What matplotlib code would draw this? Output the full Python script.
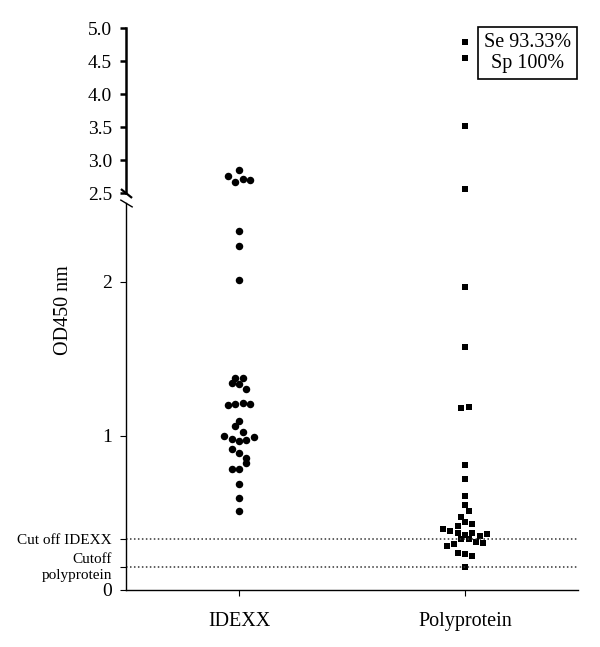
import numpy as np
import matplotlib.pyplot as plt

plt.rcParams['font.family'] = ['Liberation Serif', 'DejaVu Serif']

# OD450 values, plus the swarm offset of each dot
# (in dot widths, as they sit in the picture)
groups = ['IDEXX', 'Polyprotein']
idexx_vals = [2.844, 2.758, 2.667, 2.708, 2.697, 2.33, 2.23, 2.01,
              1.377, 1.373, 1.344, 1.334, 1.302, 1.215, 1.204, 1.204, 1.198,
              1.096, 1.064, 1.027, 1.001, 0.992, 0.981, 0.973, 0.966,
              0.912, 0.887, 0.854, 0.826, 0.783, 0.783, 0.687, 0.595, 0.512]
idexx_off = [0, -1.5, -0.5, 0.5, 1.5, 0, 0, 0,
             0.5, -0.5, -1, 0, 1, 0.5, -0.5, 1.5, -1.5,
             0, -0.5, 0.5, -2, 2, -1, 1, 0,
             -1, 0, 1, 1, -1, 0, 0, 0, 0]
poly_vals = [4.79, 4.55, 3.515, 2.556, 1.967, 1.578, 1.182, 1.189,
             0.809, 0.722, 0.610, 0.551, 0.510, 0.475, 0.443, 0.428, 0.415,
             0.394, 0.385, 0.368, 0.372, 0.363, 0.357, 0.352, 0.329, 0.329,
             0.313, 0.303, 0.298, 0.285, 0.238, 0.233, 0.220, 0.151]
poly_off = [0, 0, 0, 0, 0, 0, -0.5, 0.5,
            0, 0, 0, 0, 0.5, -0.5, 0, 1, -1,
            -3, -2, -1, 1, 3, 0, 2, -0.5, 0.5,
            1.5, 2.5, -1.5, -2.5, -1, 0, 1, 0]
cut_idexx = 0.33
cut_poly = 0.147
top_ticks = [2.5, 3.0, 3.5, 4.0, 4.5, 5.0]
stats_text = 'Se 93.33%\nSp 100%'

step = 0.0325   # one dot width in x data units
brk = 2.5

fig = plt.figure(figsize=(6, 6.47), dpi=100)
ax_top = fig.add_axes([0.21, 0.7017, 0.7533, 0.255])
ax_bot = fig.add_axes([0.21, 0.0881, 0.7533, 0.598])

series = [(np.array(idexx_vals), np.array(idexx_off), 1, 'o', 5.4),
          (np.array(poly_vals), np.array(poly_off), 2, 's', 4.8)]
for vals, off, pos, mk, ms in series:
    x = pos + off * step
    hi = vals >= brk
    ax_top.plot(x[hi], vals[hi], mk, color='black', ms=ms, mew=0, clip_on=False)
    ax_bot.plot(x[~hi], vals[~hi], mk, color='black', ms=ms, mew=0, clip_on=False)

for ax in (ax_top, ax_bot):
    ax.set_xlim(0.5, 2.5)
    ax.spines['top'].set_visible(False)
    ax.spines['right'].set_visible(False)
    ax.tick_params(axis='y', direction='out', length=4, pad=6, labelsize=14)

# upper part
ax_top.set_ylim(2.5, 5.0)
ax_top.spines['bottom'].set_visible(False)
ax_top.spines['left'].set_linewidth(1.8)
ax_top.set_xticks([])
ax_top.set_yticks(top_ticks)
ax_top.set_yticklabels(['%.1f' % t for t in top_ticks])
ax_top.tick_params(axis='y', width=1.8)
ax_top.text(0.888, 0.85, stats_text, transform=ax_top.transAxes,
            ha='center', va='center', fontsize=14.5, linespacing=1.15,
            bbox=dict(boxstyle='square,pad=0.3', fc='white', ec='black', lw=1.2))

# lower part
ax_bot.set_ylim(0, 2.51)
ax_bot.spines['left'].set_linewidth(1.0)
ax_bot.spines['bottom'].set_linewidth(1.0)
ax_bot.set_yticks([0, cut_poly, cut_idexx, 1, 2])
ax_bot.set_yticklabels(['0', 'Cutoff\npolyprotein', 'Cut off IDEXX', '1', '2'])
labs = ax_bot.get_yticklabels()
for lab in labs[1:3]:
    lab.set_fontsize(11)
labs[1].set_linespacing(1.35)
labs[1].set_verticalalignment('center')
ax_bot.set_xticks([1, 2])
ax_bot.set_xticklabels(groups)
ax_bot.tick_params(axis='x', direction='out', length=4, pad=12, labelsize=14.5)
ax_bot.axhline(cut_idexx, color='#333333', lw=1.1, ls=(0, (1, 1.6)))
ax_bot.axhline(cut_poly, color='#333333', lw=1.1, ls=(0, (1, 1.6)))

# break marks
ax_top.plot([0], [0], transform=ax_top.transAxes, marker=[(-1, 0.8), (1, -0.8)],
            ms=8, mew=1.6, color='black', clip_on=False)
ax_bot.plot([0], [1], transform=ax_bot.transAxes, marker=[(-1, 0.6), (1, -0.6)],
            ms=9, mew=1.0, color='black', clip_on=False)

fig.text(63 / 600, 1 - 310 / 647, 'OD450 nm', rotation=90, ha='center',
         va='center', fontsize=14.5)

plt.savefig('out.png', dpi=100)
